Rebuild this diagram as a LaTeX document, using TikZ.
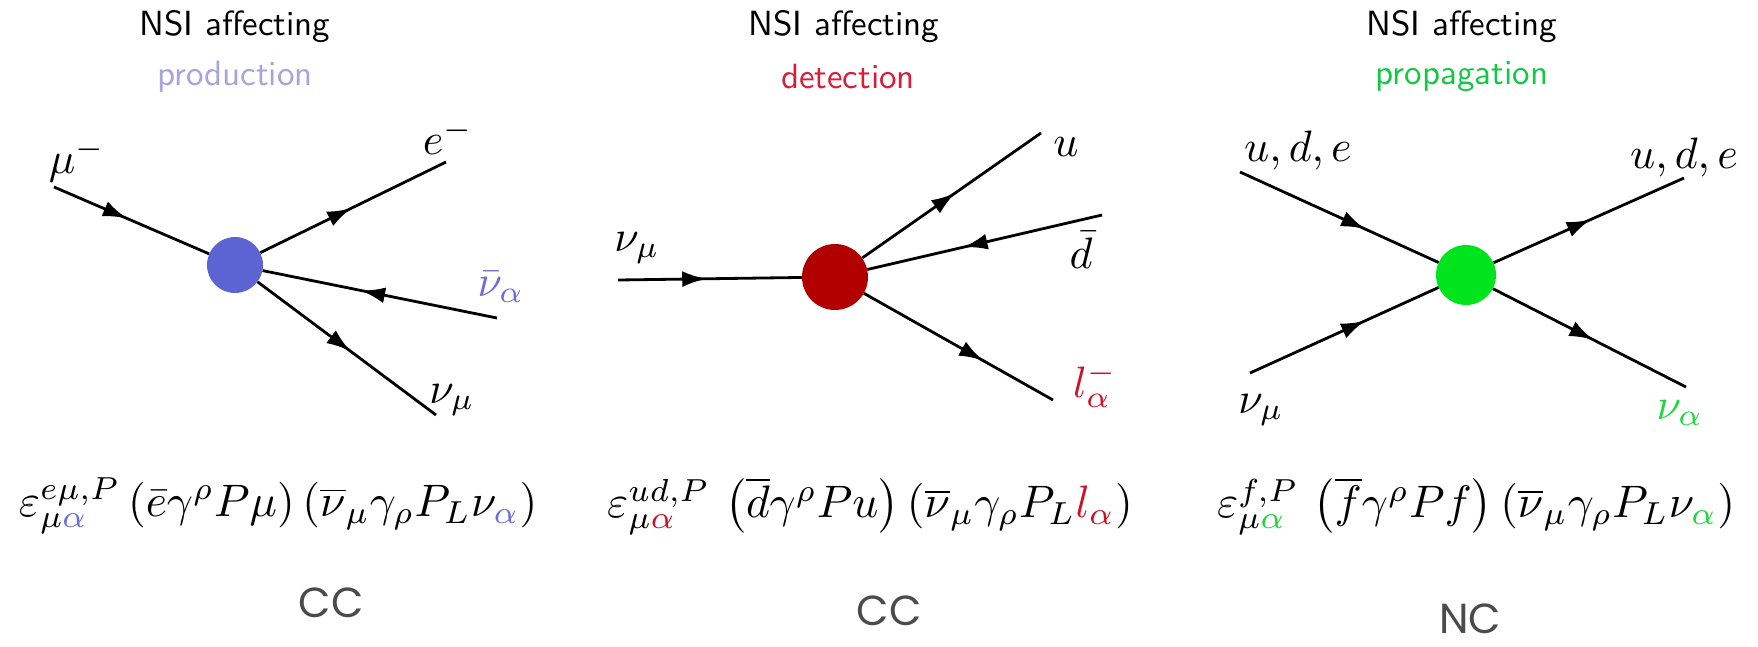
\documentclass[tikz,border=0pt]{standalone}
\usepackage{fontspec}
\newfontfamily\ccfont{Poppins}
\usetikzlibrary{decorations.markings,arrows.meta}
\definecolor{pblue}{RGB}{92,100,212}
\definecolor{ptitle}{RGB}{165,165,218}
\definecolor{dred}{RGB}{176,0,0}
\definecolor{dtitle}{RGB}{214,30,55}
\definecolor{pgreen}{RGB}{0,228,30}
\definecolor{gtitle}{RGB}{20,200,70}
\definecolor{ablue}{RGB}{110,110,215}
\definecolor{ared}{RGB}{200,20,40}
\definecolor{agreen}{RGB}{30,215,60}
\definecolor{ccgray}{RGB}{75,75,75}
\tikzset{
  fermion/.style={line width=2.8pt, postaction={decorate},
    decoration={markings, mark=at position #1 with {\arrow{Latex[length=24pt,width=16pt]}}}},
  fermion/.default=0.5,
  blob/.style={circle, inner sep=0pt, minimum size=#1},
  lab/.style={scale=4.4, inner sep=0pt},
  formula/.style={scale=4.55, inner sep=0pt},
  ttl/.style={scale=3.5, inner sep=0pt, font=\sffamily},
  cclab/.style={scale=4.2, inner sep=0pt, font=\ccfont, text=ccgray},
}
\begin{document}
\begin{tikzpicture}[x=1pt,y=-1pt]
\path[use as bounding box, fill=white] (0,0) rectangle (1758,646);

% ---------- left: production ----------
\node[ttl] (t1a) at (235,27) {NSI affecting};
\node[ttl, text=ptitle] (t1b) at (235,77) {production};
\node[blob=56pt, fill=pblue] (L) at (235,265) {};
\coordinate (Lmu) at (54,187);
\coordinate (Le) at (446,162);
\coordinate (Lna) at (497,318);
\coordinate (Lnm) at (436,415);
\draw[fermion=0.47] (Lmu) -- (L);
\draw[fermion=0.49] (L) -- (Le);
\draw[fermion=0.58] (Lna) -- (L);
\draw[fermion=0.52] (L) -- (Lnm);
\node[lab] (lmu) at (77,160) {$\mu^-$};
\node[lab] (le) at (448,137) {$e^-$};
\node[lab, text=ablue] (lna) at (501,287) {$\bar\nu_\alpha$};
\node[lab] (lnm) at (452,400) {$\nu_\mu$};

% ---------- middle: detection ----------
\node[ttl] (t2a) at (844,27) {NSI affecting};
\node[ttl, text=dtitle] (t2b) at (848,77) {detection};
\node[blob=66pt, fill=dred] (M) at (835,277) {};
\coordinate (Mnm) at (618,280);
\coordinate (Mu) at (1041,133);
\coordinate (Md) at (1102,215);
\coordinate (Ml) at (1053,400);
\draw[fermion=0.48] (Mnm) -- (M);
\draw[fermion=0.52] (M) -- (Mu);
\draw[fermion=0.59] (Md) -- (M);
\draw[fermion=0.63] (M) -- (Ml);
\node[lab] (mnm) at (637,248) {$\nu_\mu$};
\node[lab] (mu) at (1066,147) {$u$};
\node[lab] (md) at (1081,250) {$\bar d$};
\node[lab, text=ared] (ml) at (1095,385) {$l_\alpha^-$};

% ---------- right: propagation ----------
\node[ttl] (t3a) at (1462,27) {NSI affecting};
\node[ttl, text=gtitle] (t3b) at (1462,77) {propagation};
\node[blob=60pt, fill=pgreen] (R) at (1466,275) {};
\coordinate (Rtl) at (1240,172);
\coordinate (Rbl) at (1250,373);
\coordinate (Rtr) at (1684,178);
\coordinate (Rbr) at (1686,387);
\draw[fermion=0.63] (Rtl) -- (R);
\draw[fermion=0.61] (Rbl) -- (R);
\draw[fermion=0.51] (R) -- (Rtr);
\draw[fermion=0.52] (R) -- (Rbr);
\node[lab] (rtl) at (1298,150) {$u,d,e$};
\node[lab] (rtr) at (1684,157) {$u,d,e$};
\node[lab] (rbl) at (1261,410) {$\nu_\mu$};
\node[lab, text=agreen] (rbr) at (1680,413) {$\nu_\alpha$};

% ---------- formulas ----------
\node[formula] (f1) at (278,506) {$\varepsilon^{e\mu,P}_{\mu\textcolor{ablue}{\alpha}}\,(\bar e\gamma^\rho P\mu)\,(\overline{\nu}_\mu\gamma_\rho P_L\nu_{\textcolor{ablue}{\alpha}})$};
\node[formula] (f2) at (870,506) {$\varepsilon^{ud,P}_{\mu\textcolor{ared}{\alpha}}\,\left(\overline{d}\gamma^\rho Pu\right)(\overline{\nu}_\mu\gamma_\rho P_L\textcolor{ared}{l_\alpha})$};
\node[formula] (f3) at (1476,506) {$\varepsilon^{f,P}_{\mu\textcolor{agreen}{\alpha}}\,\left(\overline{f}\gamma^\rho Pf\right)(\overline{\nu}_\mu\gamma_\rho P_L\nu_{\textcolor{agreen}{\alpha}})$};

% ---------- CC / NC ----------
\node[cclab] (c1) at (331,603) {CC};
\node[cclab] (c2) at (889,611) {CC};
\node[cclab] (c3) at (1470,619) {NC};
\end{tikzpicture}
\end{document}
